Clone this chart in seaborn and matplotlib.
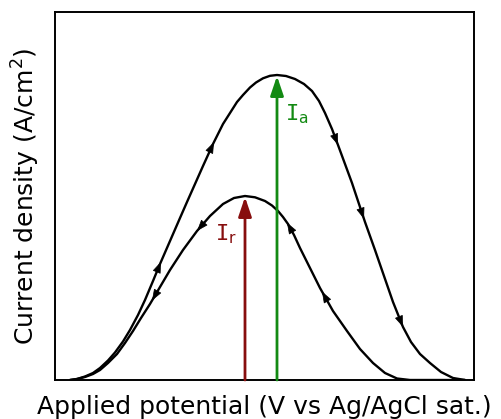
import numpy as np
import pandas as pd
import matplotlib
matplotlib.use("Agg")
import matplotlib.pyplot as plt
import seaborn as sns

# Forward (anodic) scan (x: potential, y: current density, arbitrary units)
fwd_x = [15, 22, 30, 38, 45, 53, 60, 68, 75, 83, 90, 98, 105, 115, 125, 132, 140, 148,
         158, 168, 175, 182, 188, 195, 201, 208, 215, 222, 231, 240, 249, 257, 264, 270,
         277, 283, 290, 297, 304, 310, 320, 329, 338, 348, 356, 365, 375, 386, 398, 410]
fwd_y = [0, 1, 3.5, 7, 12, 19.5, 27.5, 38.5, 50, 65, 80, 99, 116, 139, 162, 178, 196, 214,
         236, 256, 267, 278, 285, 292.5, 297.5, 301.7, 304.2, 305, 304, 301, 296, 289, 279, 267,
         251, 235, 216, 197, 176, 158, 130, 104, 78, 53, 38, 26, 17, 8, 2, 0]

# Reverse scan
rev_x = [15, 22, 30, 38, 45, 53, 62, 70, 78, 86, 95, 105, 115, 128, 142, 155, 168, 179,
         190, 200, 210, 217, 223, 228, 233, 239, 245, 255, 265, 278, 292, 305, 318, 330,
         342, 355, 375, 410]
rev_y = [0, 1, 3, 6, 10, 17, 26, 37, 49, 62, 76, 93, 110, 130, 149, 164, 176, 182,
         184, 182.7, 179, 174.5, 169, 163, 156, 145, 132, 112, 92, 69, 49, 31, 17, 7,
         1.5, 0, 0, 0]

# Direction markers on the curves (x positions)
fwd_arrow_x = [106, 159, 283, 309, 348]
rev_arrow_x = [97, 142, 232, 267]

# Peak current markers
ia_x, ia_y = 222, 304
ir_x, ir_y = 190, 183

sns.set_theme(style="white")
plt.rcParams['font.family'] = ['DejaVu Sans']

fig = plt.figure(figsize=(5.01, 4.19), dpi=100)
ax = fig.add_axes([55 / 501, 1 - 380 / 419, 419 / 501, 368 / 419])

fwd = pd.DataFrame({"x": fwd_x, "y": fwd_y})
rev = pd.DataFrame({"x": rev_x, "y": rev_y})
sns.lineplot(data=fwd, x="x", y="y", sort=False, estimator=None, color="black", lw=1.7, ax=ax)
sns.lineplot(data=rev, x="x", y="y", sort=False, estimator=None, color="black", lw=1.7, ax=ax)

def mark(xs, ys, x0, direction):
    dx = 4.0 * direction
    xt = x0 - dx
    y0 = np.interp(x0, xs, ys)
    yt = np.interp(xt, xs, ys)
    ax.annotate("", xy=(x0, y0), xytext=(xt, yt),
                arrowprops=dict(arrowstyle="-|>,head_length=0.6,head_width=0.22",
                                mutation_scale=12, color="black", lw=0.5,
                                shrinkA=0, shrinkB=0))

for x0 in fwd_arrow_x:
    mark(fwd_x, fwd_y, x0, +1)
for x0 in rev_arrow_x:
    mark(rev_x, rev_y, x0, -1)

green = "#138a13"
red = "#870e0e"
ax.annotate("", xy=(ia_x, ia_y), xytext=(ia_x, 0),
            arrowprops=dict(arrowstyle="-|>,head_length=0.65,head_width=0.22",
                            mutation_scale=18, color=green, lw=2.0, shrinkA=0, shrinkB=0))
ax.annotate("", xy=(ir_x, ir_y), xytext=(ir_x, 0),
            arrowprops=dict(arrowstyle="-|>,head_length=0.65,head_width=0.22",
                            mutation_scale=18, color=red, lw=2.0, shrinkA=0, shrinkB=0))

ax.text(ia_x + 8, 266, r"$\mathtt{I}_\mathrm{a}$", color=green, fontsize=16,
        ha="left", va="center")
ax.text(ir_x - 8, 146, r"$\mathtt{I}_\mathrm{r}$", color=red, fontsize=16,
        ha="right", va="center")

ax.set_xlim(0, 419)
ax.set_ylim(0, 368)
ax.set_xticks([])
ax.set_yticks([])
for s in ax.spines.values():
    s.set_visible(True)
    s.set_color("black")
    s.set_linewidth(1.4)

ax.set_xlabel("Applied potential (V vs Ag/AgCl sat.)", fontsize=18, labelpad=11, color="black")
ax.set_ylabel("Current density (A/cm$^2$)", fontsize=18, labelpad=9, color="black")

fig.savefig("out.png", dpi=100, facecolor="white")
